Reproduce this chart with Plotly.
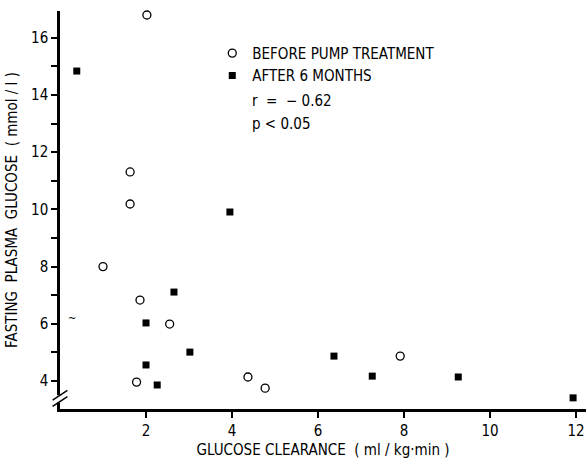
import plotly.graph_objects as go

# Before pump treatment (open circles)
before_x = [2.02, 1.63, 1.63, 1.00, 1.86, 2.55, 1.78, 4.37, 4.77, 7.91]
before_y = [16.80, 11.31, 10.19, 8.00, 6.83, 5.99, 3.96, 4.14, 3.75, 4.87]

# After 6 months (filled squares)
after_x = [0.39, 2.00, 2.65, 2.00, 2.26, 3.02, 3.95, 6.37, 7.26, 9.26, 11.93]
after_y = [14.84, 6.03, 7.11, 4.56, 3.86, 5.01, 9.91, 4.87, 4.17, 4.14, 3.41]

x_ticks = [2, 4, 6, 8, 10, 12]
y_ticks = [4, 6, 8, 10, 12, 14, 16]

FONT = "DejaVu Sans Condensed, Liberation Sans Narrow, Arial Narrow, sans-serif"
FS = 15

fig = go.Figure()
fig.add_trace(go.Scatter(
    x=before_x, y=before_y, mode="markers", name="BEFORE PUMP TREATMENT",
    marker=dict(symbol="circle-open", size=8, color="black", line=dict(width=1.3, color="black")),
    cliponaxis=False,
))
fig.add_trace(go.Scatter(
    x=after_x, y=after_y, mode="markers", name="AFTER 6 MONTHS",
    marker=dict(symbol="square", size=7, color="black"),
    cliponaxis=False,
))

fig.update_layout(
    width=586, height=461,
    margin=dict(l=60, r=0, t=11, b=52, autoexpand=False),
    paper_bgcolor="white", plot_bgcolor="white",
    font=dict(family=FONT, color="black", size=FS),
    showlegend=True,
    legend=dict(x=0.2895, y=0.935, xanchor="left", yanchor="top",
                font=dict(family=FONT, size=FS, color="black"),
                bgcolor="rgba(0,0,0,0)", tracegroupgap=0, itemwidth=30,
                traceorder="normal"),
    xaxis=dict(
        range=[0, 12.23], showgrid=False, zeroline=False, automargin=False,
        showline=True, linecolor="black", linewidth=2.5,
        ticks="outside", ticklen=6, tickwidth=2, tickcolor="black",
        tickvals=x_ticks, ticktext=[str(v) for v in x_ticks],
        tickfont=dict(family=FONT, size=FS), ticklabeloverflow="allow",
        title=dict(text="GLUCOSE CLEARANCE  ( ml / kg\u00b7min )", font=dict(family=FONT, size=FS), standoff=6),
    ),
    yaxis=dict(
        range=[3.02, 16.94], showgrid=False, zeroline=False, automargin=False,
        showline=True, linecolor="black", linewidth=2.5,
        ticks="outside", ticklen=6, tickwidth=2, tickcolor="black",
        tickvals=y_ticks, ticktext=[str(v) for v in y_ticks],
        minor=dict(dtick=1, tick0=0, ticks="outside", ticklen=6, tickwidth=2, tickcolor="black"),
        tickfont=dict(family=FONT, size=FS), ticklabeloverflow="allow",
        title=dict(text="FASTING  PLASMA  GLUCOSE  ( mmol / l )", font=dict(family=FONT, size=FS), standoff=10),
    ),
)

# axis break on y-axis near bottom
fig.add_shape(type="rect", xref="paper", yref="y", x0=-0.01, x1=0.01, y0=3.25, y1=3.5,
              fillcolor="white", line=dict(width=0), layer="above")
for yy in (3.28, 3.5):
    fig.add_shape(type="line", xref="paper", yref="y", x0=-0.014, x1=0.014, y0=yy - 0.17, y1=yy + 0.17,
                  line=dict(color="black", width=1.5), layer="above")

fig.add_annotation(x=0.28, y=6.2, xref="x", yref="y", text="~", showarrow=False,
                   font=dict(family=FONT, size=11, color="black"))

fig.add_annotation(x=0.362, y=0.775, xref="paper", yref="paper", xanchor="left", yanchor="middle",
                   text="r  =  \u2212 0.62", showarrow=False, font=dict(family=FONT, size=FS, color="black"))
fig.add_annotation(x=0.362, y=0.715, xref="paper", yref="paper", xanchor="left", yanchor="middle",
                   text="p &lt; 0.05", showarrow=False, font=dict(family=FONT, size=FS, color="black"))

# remove the browser's default 8px page margin so the figure fills the window exactly
fig.write_html(
    "out.html",
    config={"displayModeBar": False},
    post_script="document.documentElement.style.margin='0';document.body.style.margin='0';"
                "document.documentElement.style.overflow='hidden';document.body.style.overflow='hidden';",
)
